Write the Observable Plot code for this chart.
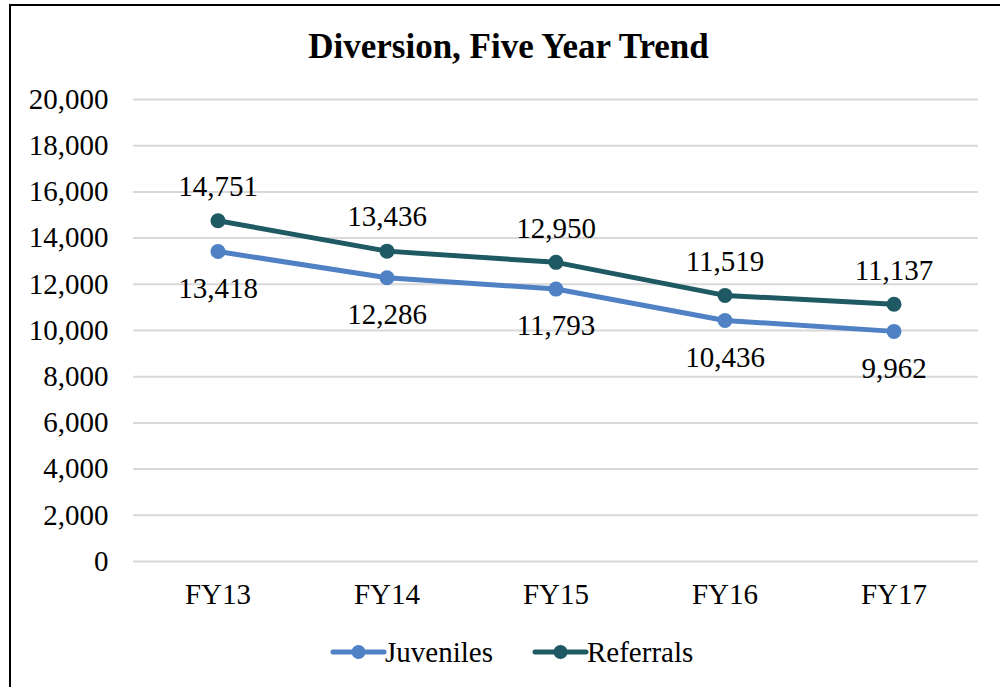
<!DOCTYPE html>
<html>
<head>
<meta charset="utf-8">
<script src="https://cdn.jsdelivr.net/npm/d3@7"></script>
<script src="https://cdn.jsdelivr.net/npm/@observablehq/plot@0.6"></script>
<style>
  html, body { margin: 0; padding: 0; background: #fff; }
  #wrap { position: relative; width: 1000px; height: 687px; overflow: hidden; background: #fff; font-family: "Liberation Serif", "Times New Roman", serif; }
  #frame { position: absolute; left: 9px; top: 4px; width: 1000px; height: 700px; border-left: 2.5px solid #000; border-top: 2.5px solid #000; box-sizing: border-box; }
  #title { position: absolute; left: 0; width: 1017px; top: 27px; text-align: center; font-weight: bold; font-size: 35px; color: #000; line-height: 40px; }
  #chart { position: absolute; left: 0; top: 0; }
  #legend { position: absolute; left: 0; top: 630px; }
</style>
</head>
<body>
<div id="wrap">
  <div id="frame"></div>
  <div id="chart"></div>
  <div id="title">Diversion, Five Year Trend</div>
  <div id="legend"></div>
</div>
<script>
const years = ["FY13", "FY14", "FY15", "FY16", "FY17"];
const juveniles = [13418, 12286, 11793, 10436, 9962];
const referrals = [14751, 13436, 12950, 11519, 11137];
const yTicks = [0, 2000, 4000, 6000, 8000, 10000, 12000, 14000, 16000, 18000, 20000];
const seriesNames = ["Juveniles", "Referrals"];
const seriesColors = ["#4f81c4", "#1f5964"];

const fmt = d3.format(",");
const rows = [];
years.forEach((y, i) => {
  rows.push({year: y, value: juveniles[i], series: "Juveniles"});
  rows.push({year: y, value: referrals[i], series: "Referrals"});
});
const juv = rows.filter(d => d.series === "Juveniles");
const ref = rows.filter(d => d.series === "Referrals");

const plot = Plot.plot({
  width: 1000,
  height: 687,
  marginTop: 99,
  marginBottom: 126,
  marginLeft: 133,
  marginRight: 22,
  style: {fontFamily: "Liberation Serif, Times New Roman, serif", fontSize: "29px", color: "#000", background: "transparent"},
  x: {type: "band", domain: years, padding: 0, label: null},
  y: {domain: [0, 20000], label: null},
  color: {domain: seriesNames, range: seriesColors},
  marks: [
    Plot.ruleY(yTicks, {stroke: "#d9d9d9", strokeWidth: 2}),
    Plot.axisY({ticks: yTicks, tickSize: 0, tickPadding: 25, tickFormat: fmt, label: null, fill: "#000"}),
    Plot.axisX({tickSize: 0, tickPadding: 22, label: null, fill: "#000"}),
    Plot.line(rows, {x: "year", y: "value", z: "series", stroke: "series", strokeWidth: 5, strokeLinecap: "round", strokeLinejoin: "round"}),
    Plot.dot(rows, {x: "year", y: "value", fill: "series", r: 7.5}),
    Plot.text(ref, {x: "year", y: "value", text: d => fmt(d.value), dy: -34, fill: "#000"}),
    Plot.text(juv, {x: "year", y: "value", text: d => fmt(d.value), dy: 37, fill: "#000"})
  ]
});
document.getElementById("chart").appendChild(plot);

// Legend
const legend = d3.select("#legend").append("svg").attr("width", 1000).attr("height", 45);
const items = [
  {name: seriesNames[0], color: seriesColors[0], x0: 333},
  {name: seriesNames[1], color: seriesColors[1], x0: 535}
];
items.forEach(it => {
  const g = legend.append("g");
  g.append("line").attr("x1", it.x0).attr("x2", it.x0 + 51).attr("y1", 22).attr("y2", 22)
    .attr("stroke", it.color).attr("stroke-width", 5).attr("stroke-linecap", "round");
  g.append("circle").attr("cx", it.x0 + 25.5).attr("cy", 22).attr("r", 7).attr("fill", it.color);
  g.append("text").attr("x", it.x0 + 52).attr("y", 22).attr("dy", "0.35em")
    .attr("font-family", "Liberation Serif, Times New Roman, serif").attr("font-size", 29)
    .attr("fill", "#000").text(it.name);
});
</script>
</body>
</html>
